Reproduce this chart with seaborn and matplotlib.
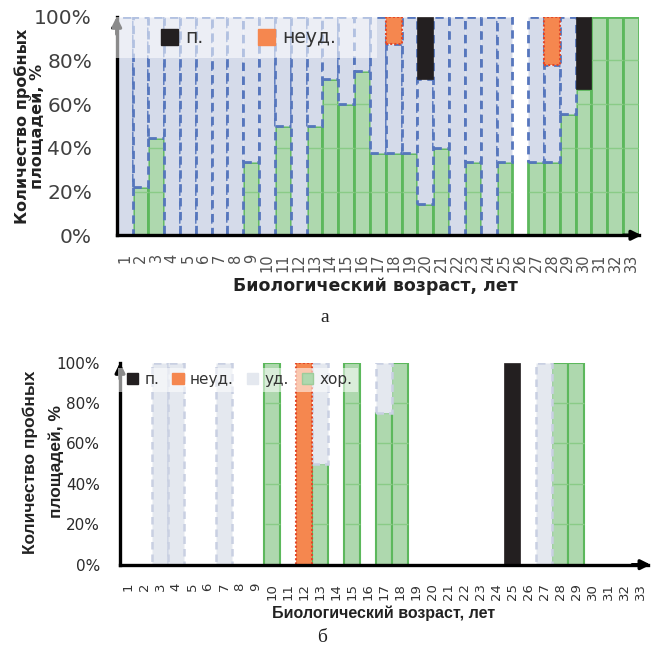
import numpy as np
import pandas as pd
import matplotlib
matplotlib.use("Agg")
import matplotlib.pyplot as plt
import seaborn as sns
from matplotlib.patches import Rectangle

sns.set_style("white")
plt.rcParams['font.family'] = ['DejaVu Sans']

# ---------------- data ----------------
ages = [str(i) for i in range(1, 34)]
grades = ["п.", "неуд.", "уд.", "хор."]
y_ticks = [0, 20, 40, 60, 80, 100]
y_tick_labels = ["0%", "20%", "40%", "60%", "80%", "100%"]

# chart a (percent of plots)
a_hor = [0, 22.2, 44.4, 0, 0, 0, 0, 0, 33.3, 0, 50, 0, 50, 71.4, 60, 75, 37.5,
         37.5, 37.5, 14.3, 40, 0, 33.3, 0, 33.3, 0, 33.3, 33.3, 55.6, 66.7,
         100, 100, 100]
a_ud = [100, 77.8, 55.6, 100, 100, 100, 100, 100, 66.7, 100, 50, 100, 50, 28.6,
        40, 25, 62.5, 50, 62.5, 57.1, 60, 100, 66.7, 100, 66.7, 0, 66.7, 44.5,
        44.4, 0, 0, 0, 0]
a_neud = [0] * 17 + [12.5] + [0] * 9 + [22.2] + [0] * 5
a_p = [0] * 19 + [28.6] + [0] * 9 + [33.3] + [0] * 3

# chart b
b_hor = [0, 0, 0, 0, 0, 0, 0, 0, 0, 100, 0, 0, 50, 0, 100, 0, 75, 100, 0, 0, 0,
         0, 0, 0, 0, 0, 0, 100, 100, 0, 0, 0, 0]
b_ud = [0, 0, 100, 100, 0, 0, 100, 0, 0, 0, 0, 0, 50, 0, 0, 0, 25, 0, 0, 0, 0,
        0, 0, 0, 0, 0, 100, 0, 0, 0, 0, 0, 0]
b_neud = [0] * 11 + [100] + [0] * 21
b_p = [0] * 24 + [100] + [0] * 8

# ---------------- styles ----------------
GREEN = "#aed8ae"
GREEN_EDGE = "#5cb85c"
GRID_GREEN = "#8acb87"
ORANGE = "#f5874f"
ORANGE_EDGE = "#e2482a"
BLACK = "#231f20"

style_a = dict(
    ud_fill="#d5dbea", ud_edge="#5676bd", ud_lw=2.0, hor_lw=2.0,
    ytick_size=14.5, ytick_color="#404040", xtick_size=10.5, xtick_color="#505050",
    leg_size=13.5,
)
style_b = dict(
    ud_fill="#e4e8ef", ud_edge="#c9d0e2", ud_lw=1.8, hor_lw=1.5,
    ytick_size=11, ytick_color="#2a2a2a", xtick_size=9.5, xtick_color="#333333",
    leg_size=11,
)

fig = plt.figure(figsize=(6.53, 6.51), dpi=100)
ax_a = fig.add_axes([0.1787, 0.6386, 0.7998, 0.3358])
ax_b = fig.add_axes([0.1838, 0.1326, 0.8086, 0.3103])


def draw(ax, hor, ud, neud, p, st):
    layers = [
        (hor, dict(color=GREEN, edgecolor=GREEN_EDGE, linewidth=st["hor_lw"], linestyle="-")),
        (ud, dict(color=st["ud_fill"], edgecolor=st["ud_edge"], linewidth=st["ud_lw"], linestyle=(0, (3, 2)))),
        (neud, dict(color=ORANGE, edgecolor=ORANGE_EDGE, linewidth=1.5, linestyle=(0, (1, 1)))),
        (p, dict(color=BLACK, edgecolor=BLACK, linewidth=0.5, linestyle="-")),
    ]
    bottom = np.zeros(len(ages))
    containers = []
    for i, (vals, kw) in enumerate(layers):
        vals = np.asarray(vals, dtype=float)
        sns.barplot(x=ages, y=vals, order=ages, bottom=bottom, width=1,
                    saturation=1, errorbar=None, ax=ax, zorder=2 + i * 0.1, **kw)
        cont = ax.containers[-1]
        for patch, v in zip(cont, vals):
            if v <= 0:
                patch.set_visible(False)
        containers.append(cont)
        bottom = bottom + vals
    # light grid lines showing through the green bars
    for patch, v in zip(containers[0], hor):
        if v > 0:
            x0 = patch.get_x()
            for lev in y_ticks[1:-1]:
                if lev < v:
                    ax.hlines(lev, x0 + 0.03, x0 + patch.get_width() - 0.03,
                              color=GRID_GREEN, lw=1.0, zorder=2.05)

    ax.set_xlim(-0.5, len(ages) - 0.5)
    ax.set_ylim(0, 100)
    ax.set_yticks(y_ticks, y_tick_labels)
    ax.set_yticks(np.arange(0, 101, 4), minor=True)
    ax.set_xticks(range(len(ages)), ages, rotation=90)
    ax.set_xticks(np.arange(-0.5, len(ages)), minor=True)
    for s in ["top", "right"]:
        ax.spines[s].set_visible(False)
    for s in ["left", "bottom"]:
        ax.spines[s].set_linewidth(2.4)
        ax.spines[s].set_color("black")
        ax.spines[s].set_zorder(3)
    ax.set_xlabel("")
    ax.set_ylabel("")
    ax.grid(False)
    # axis arrows
    ax.annotate("", xy=(1.005, 0), xytext=(0.97, 0), xycoords="axes fraction",
                arrowprops=dict(arrowstyle="-|>", color="black", lw=2.4,
                                mutation_scale=14, shrinkA=0, shrinkB=0),
                annotation_clip=False, zorder=3.2)
    ax.annotate("", xy=(0, 1.0), xytext=(0, 0.92), xycoords="axes fraction",
                arrowprops=dict(arrowstyle="-|>", color="black", lw=2.4,
                                mutation_scale=14, shrinkA=0, shrinkB=0),
                annotation_clip=False, zorder=3.2)


draw(ax_a, a_hor, a_ud, a_neud, a_p, style_a)
draw(ax_b, b_hor, b_ud, b_neud, b_p, style_b)

ax_a.tick_params(axis="y", which="major", direction="inout", length=13.5, width=2,
                 pad=11, labelsize=style_a["ytick_size"], labelcolor=style_a["ytick_color"])
ax_a.tick_params(axis="y", which="minor", direction="out", length=6, width=1.5)
ax_a.tick_params(axis="x", which="major", length=0, pad=13,
                 labelsize=style_a["xtick_size"], labelcolor=style_a["xtick_color"])
ax_a.tick_params(axis="x", which="minor", direction="out", length=4.5, width=1.6)
ax_b.tick_params(axis="y", which="major", direction="inout", length=11, width=2,
                 pad=9, labelsize=style_b["ytick_size"], labelcolor=style_b["ytick_color"])
ax_b.tick_params(axis="y", which="minor", direction="out", length=5, width=1.5)
ax_b.tick_params(axis="x", which="major", length=0, pad=13,
                 labelsize=style_b["xtick_size"], labelcolor=style_b["xtick_color"])
ax_b.tick_params(axis="x", which="minor", direction="out", length=4.5, width=1.6)
for ax in (ax_a, ax_b):
    for lab in ax.get_xticklabels():
        lab.set_verticalalignment("top")


def legend(ax, box, idx, anchor, st, colspace, handle):
    ax.add_patch(Rectangle((box[0], box[1]), box[2] - box[0], box[3] - box[1],
                           transform=ax.transAxes, facecolor="white", alpha=0.55,
                           edgecolor="none", zorder=4, clip_on=False))
    cols = {"п.": BLACK, "неуд.": ORANGE, "уд.": style_b["ud_fill"], "хор.": GREEN}
    edges = {"п.": BLACK, "неуд.": ORANGE, "уд.": style_b["ud_fill"], "хор.": "#9ccc9a"}
    handles = [Rectangle((0, 0), 1, 1, facecolor=cols[grades[i]], edgecolor=edges[grades[i]])
               for i in idx]
    leg = ax.legend(handles, [grades[i] for i in idx], loc="center left",
                    bbox_to_anchor=anchor, ncol=len(idx), frameon=False,
                    fontsize=st["leg_size"], handlelength=handle, handleheight=handle,
                    handletextpad=0.4, columnspacing=colspace, borderpad=0,
                    borderaxespad=0)
    for t in leg.get_texts():
        t.set_color("#333333")
    leg.set_zorder(5)

legend(ax_a, (-0.009, 0.811, 0.498, 1.0), [0, 1], (0.085, 0.903), style_a, 2.9, 0.9)
legend(ax_b, (-0.004, 0.855, 0.451, 0.975), [0, 1, 2, 3], (0.013, 0.919), style_b, 0.85, 0.75)

# axis titles
fig.text(22 / 653, 1 - 126 / 651, "Количество пробных", rotation=90, ha="center",
         va="center", fontsize=11.5, fontweight="bold", color="#222222")
fig.text(37 / 653, 1 - 126 / 651, "площадей, %", rotation=90, ha="center",
         va="center", fontsize=11.5, fontweight="bold", color="#222222")
fig.text(375 / 653, 1 - 286 / 651, "Биологический возраст, лет", ha="center",
         va="center", fontsize=12.5, fontweight="bold", color="#222222")

fig.text(30 / 653, 1 - 462 / 651, "Количество пробных", rotation=90, ha="center",
         va="center", fontsize=12.5, fontweight="bold", color="#222222",
         family="Liberation Sans")
fig.text(56 / 653, 1 - 462 / 651, "площадей, %", rotation=90, ha="center",
         va="center", fontsize=12.5, fontweight="bold", color="#222222",
         family="Liberation Sans")
fig.text(384 / 653, 1 - 613 / 651, "Биологический возраст, лет", ha="center",
         va="center", fontsize=11.5, fontweight="bold", color="#222222",
         family="Liberation Sans")

# captions
fig.text(325 / 653, 1 - 318 / 651, "а", ha="center", va="center", fontsize=14,
         family="Liberation Serif", color="#222222")
fig.text(322 / 653, 1 - 638 / 651, "б", ha="center", va="center", fontsize=14,
         family="Liberation Serif", color="#222222")

fig.savefig("out.png", dpi=100)
